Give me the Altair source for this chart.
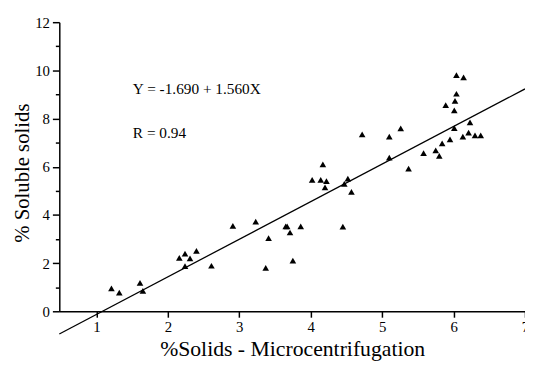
import altair as alt
import pandas as pd

# Data
x_vals = [1.21, 1.32, 1.61, 1.65, 2.16, 2.24, 2.31, 2.24, 2.40, 2.61,
          2.91, 3.23, 3.41, 3.37, 3.65, 3.67, 3.71, 3.86, 3.75, 4.45,
          4.17, 4.02, 4.14, 4.22, 4.20, 4.47, 4.52, 4.57, 4.72, 5.10,
          5.26, 5.10, 5.37, 5.58, 5.75, 5.80, 5.84, 5.95, 5.89, 6.01,
          6.02, 6.04, 6.04, 6.14, 6.01, 6.23, 6.13, 6.21, 6.30, 6.38]
y_vals = [0.95, 0.77, 1.18, 0.85, 2.22, 2.39, 2.20, 1.87, 2.51, 1.89,
          3.55, 3.72, 3.04, 1.80, 3.52, 3.52, 3.27, 3.52, 2.10, 3.51,
          6.10, 5.45, 5.45, 5.40, 5.14, 5.29, 5.51, 4.96, 7.34, 7.25,
          7.59, 6.38, 5.92, 6.57, 6.68, 6.45, 6.97, 7.14, 8.56, 8.34,
          8.73, 9.03, 9.80, 9.71, 7.60, 7.84, 7.25, 7.42, 7.30, 7.30]

intercept = -1.690
slope = 1.560
line_x = [0.48, 7.0]

eq_text = ["Y = -1.690 + 1.560X", "R = 0.94"]
eq_x = [1.51, 1.51]
eq_y = [9.0, 7.2]

x_ticks = [1, 1.5, 2, 2.5, 3, 3.5, 4, 4.5, 5, 5.5, 6, 6.5, 7]
y_ticks = [0, 1, 2, 3, 4, 5, 6, 7, 8, 9, 10, 11, 12]
x_domain = [0.48, 7.0]
y_domain = [0, 12]

pts = pd.DataFrame({"x": x_vals, "y": y_vals})
line_df = pd.DataFrame({"x": line_x})
line_df["y"] = intercept + slope * line_df["x"]
txt_df = pd.DataFrame({"x": eq_x, "y": eq_y, "t": eq_text})

FONT = "Liberation Serif"

x_scale = alt.Scale(domain=x_domain, nice=False, zero=False)
y_scale = alt.Scale(domain=y_domain, nice=False, zero=False)

x_axis = alt.Axis(
    values=x_ticks,
    format="d",
    title="%Solids - Microcentrifugation",
    titleFont=FONT, titleFontSize=22,
    titleY=45, titleBaseline="alphabetic",
    labelFont=FONT, labelFontSize=15,
    labelExpr="datum.value % 1 !== 0 ? '' : datum.label",
    tickSize={"condition": {"test": "datum.value % 1 !== 0", "value": 4}, "value": 6},
)
y_axis = alt.Axis(
    values=y_ticks,
    format="d",
    title="% Soluble solids",
    titleFont=FONT, titleFontSize=21,
    titleX=-37.5, titleY=152.5, titleAngle=-90, titleAlign="center", titleBaseline="middle",
    labelFont=FONT, labelFontSize=15,
    labelExpr="datum.value % 2 !== 0 ? '' : datum.label",
    tickSize={"condition": {"test": "datum.value % 2 !== 0", "value": 4}, "value": 7},
)

points = alt.Chart(pts).mark_point(
    shape="triangle-up", filled=True, color="black", size=45, opacity=1
).encode(
    x=alt.X("x:Q", scale=x_scale, axis=x_axis),
    y=alt.Y("y:Q", scale=y_scale, axis=y_axis),
)

reg = alt.Chart(line_df).mark_line(color="black", strokeWidth=1.3, clip=False).encode(
    x=alt.X("x:Q", scale=x_scale, axis=None),
    y=alt.Y("y:Q", scale=y_scale, axis=None),
)

eq = alt.Chart(txt_df).mark_text(
    font=FONT, fontSize=15.5, color="black", align="left", baseline="alphabetic"
).encode(
    x=alt.X("x:Q", scale=x_scale, axis=None),
    y=alt.Y("y:Q", scale=y_scale, axis=None),
    text="t:N",
)

chart = alt.layer(points, reg, eq).resolve_axis(
    x="independent", y="independent"
).properties(
    width=472,
    height=293,
    autosize=alt.AutoSizeParams(type="none"),
    padding={"left": 52, "top": 12, "right": 0, "bottom": 48},
).configure_view(stroke=None).configure_axis(
    labelFont=FONT, titleFont=FONT,
    labelColor="black", titleColor="black", titleFontWeight="normal",
    tickColor="black", tickWidth=1.5,
    domainColor="black", domainWidth=1.5,
    grid=False, labelFlush=False, labelOverlap=False,
).configure_axisX(labelPadding=3).configure_axisY(labelPadding=3)

chart.save("out.html", embed_options={"renderer": "svg", "actions": False})
